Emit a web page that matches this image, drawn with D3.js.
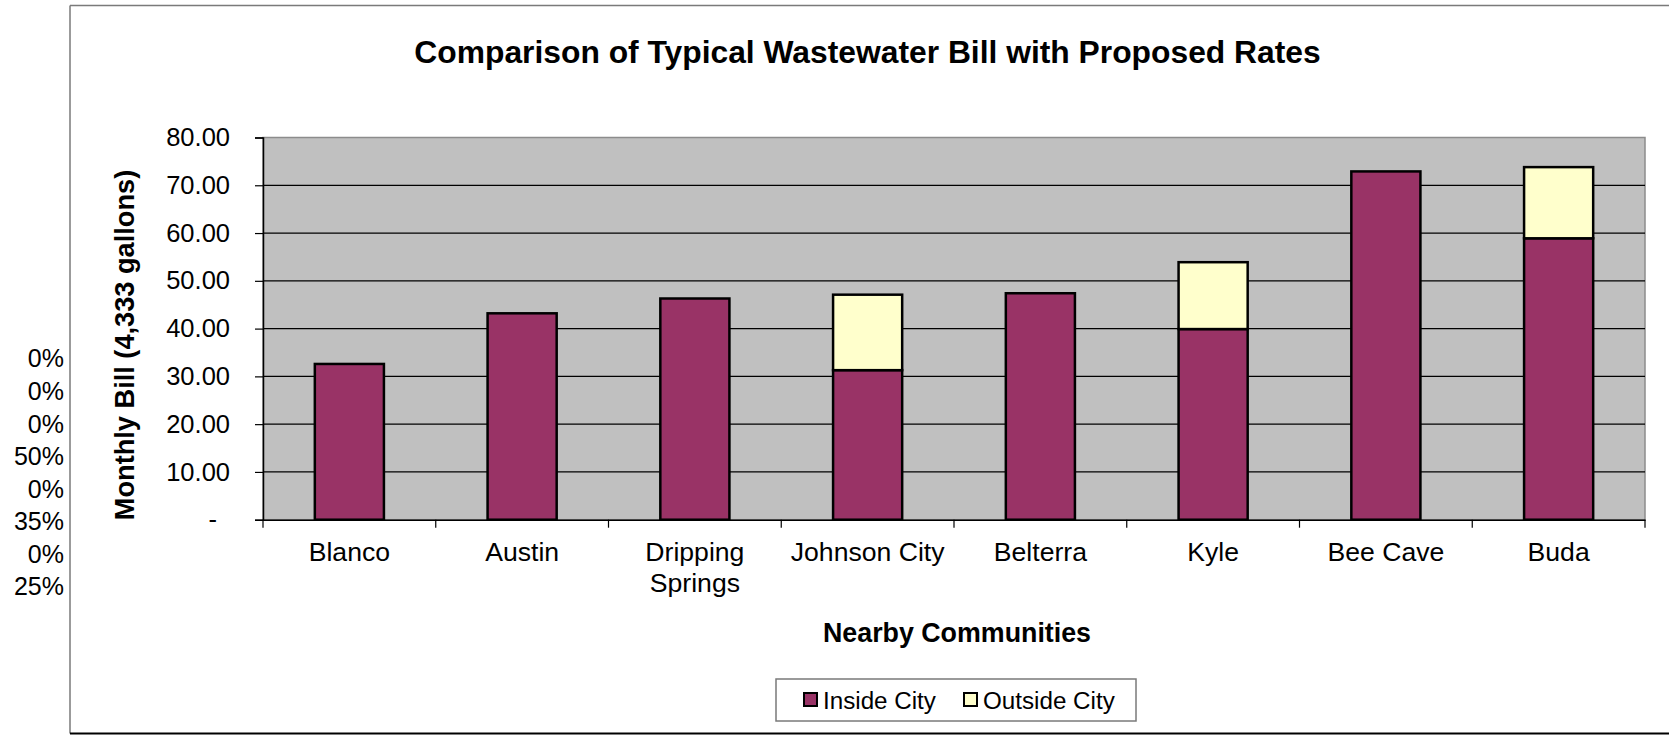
<!DOCTYPE html>
<html>
<head>
<meta charset="utf-8">
<script src="https://cdn.jsdelivr.net/npm/d3@7"></script>
<style>
  html, body { margin: 0; padding: 0; background: #fff; }
  svg { display: block; font-family: "Liberation Sans", Arial, sans-serif; }
</style>
</head>
<body>
<svg id="chart" width="1669" height="736"></svg>
<script>
// ---- data ----
const categories = ["Blanco", "Austin", "Dripping Springs", "Johnson City", "Belterra", "Kyle", "Bee Cave", "Buda"];
const insideCity = [32.6, 43.2, 46.3, 31.3, 47.4, 39.9, 72.9, 58.9];
const outsideCity = [0, 0, 0, 15.8, 0, 14.0, 0, 14.9];
const seriesNames = ["Inside City", "Outside City"];
const yTicks = [0, 10, 20, 30, 40, 50, 60, 70, 80];
const strayLabels = ["0%", "0%", "0%", "50%", "0%", "35%", "0%", "25%"];
const titleText = "Comparison of Typical Wastewater Bill with Proposed Rates";
const yTitle = "Monthly Bill (4,333 gallons)";
const xTitle = "Nearby Communities";

// ---- layout ----
const W = 1669, H = 736;
const plot = { left: 263, right: 1645, top: 137.5, bottom: 519.7 };
const colors = { "Inside City": "#993366", "Outside City": "#FFFFCC" };

const svg = d3.select("#chart");

// outer chart frame
svg.append("line").attr("x1", 70).attr("y1", 5.5).attr("x2", 70).attr("y2", 733.5)
  .attr("stroke", "#7a7a7a").attr("stroke-width", 1.5);
svg.append("line").attr("x1", 70).attr("y1", 5.5).attr("x2", W).attr("y2", 5.5)
  .attr("stroke", "#7a7a7a").attr("stroke-width", 1.5);
svg.append("line").attr("x1", 70).attr("y1", 733.5).attr("x2", W).attr("y2", 733.5)
  .attr("stroke", "#000").attr("stroke-width", 2);

// scales
const x = d3.scaleBand().domain(categories).range([plot.left, plot.right])
  .paddingInner(0.6).paddingOuter(0.3);
const y = d3.scaleLinear().domain([0, 80]).range([plot.bottom, plot.top]);

// plot background
svg.append("rect").attr("x", plot.left).attr("y", plot.top)
  .attr("width", plot.right - plot.left).attr("height", plot.bottom - plot.top)
  .attr("fill", "#C0C0C0").attr("stroke", "#8c8c8c").attr("stroke-width", 1.5);

// gridlines
svg.append("g").selectAll("line").data(yTicks.filter(d => d > 0 && d < 80)).join("line")
  .attr("x1", plot.left).attr("x2", plot.right)
  .attr("y1", d => y(d)).attr("y2", d => y(d))
  .attr("stroke", "#000").attr("stroke-width", 1.2);

// y axis
const yAxis = d3.axisLeft(y).tickValues(yTicks).tickSize(8).tickPadding(25)
  .tickFormat(d => d === 0 ? "-" : d3.format(".2f")(d));
const gy = svg.append("g").attr("transform", `translate(${plot.left},0)`).call(yAxis);
gy.select(".domain").attr("stroke", "#000").attr("stroke-width", 1.5);
gy.selectAll(".tick line").attr("stroke", "#000").attr("stroke-width", 1.2);
gy.selectAll(".tick text").attr("font-size", 25.5).attr("fill", "#000")
  .attr("font-family", '"Liberation Sans", Arial, sans-serif');
gy.selectAll(".tick text").filter(d => d === 0).attr("x", -46);

// x axis
const xAxis = d3.axisBottom(x).tickSize(0).tickPadding(22);
const gx = svg.append("g").attr("transform", `translate(0,${plot.bottom})`).call(xAxis);
gx.select(".domain").attr("stroke", "#000").attr("stroke-width", 1.5);
gx.selectAll(".tick text").attr("font-size", 26.6).attr("fill", "#000")
  .attr("font-family", '"Liberation Sans", Arial, sans-serif')
  .call(wrap, x.step() - 10);
// category boundary tick marks
const bounds = d3.range(categories.length + 1).map(i => plot.left + i * x.step());
svg.append("g").selectAll("line").data(bounds).join("line")
  .attr("x1", d => d).attr("x2", d => d)
  .attr("y1", plot.bottom).attr("y2", plot.bottom + 8)
  .attr("stroke", "#000").attr("stroke-width", 1.2);

function wrap(texts, width) {
  texts.each(function () {
    const t = d3.select(this);
    const words = t.text().split(/\s+/);
    const yy = t.attr("y"), dy = parseFloat(t.attr("dy")) || 0;
    t.text(null);
    let line = [], lineNo = 0;
    let tspan = t.append("tspan").attr("x", 0).attr("y", yy).attr("dy", dy + "em");
    for (const w of words) {
      line.push(w);
      tspan.text(line.join(" "));
      if (tspan.node().getComputedTextLength() > width && line.length > 1) {
        line.pop();
        tspan.text(line.join(" "));
        line = [w];
        lineNo++;
        tspan = t.append("tspan").attr("x", 0).attr("y", yy)
          .attr("dy", (lineNo * 1.18 + dy) + "em").text(w);
      }
    }
  });
}

// stacked bars
const rows = categories.map((c, i) => ({ cat: c, "Inside City": insideCity[i], "Outside City": outsideCity[i] }));
const stacked = d3.stack().keys(seriesNames)(rows);
svg.append("g").selectAll("g").data(stacked).join("g")
  .attr("fill", s => colors[s.key])
  .selectAll("rect").data(s => s.filter(d => d[1] - d[0] > 0)).join("rect")
  .attr("x", d => x(d.data.cat))
  .attr("width", x.bandwidth())
  .attr("y", d => y(d[1]))
  .attr("height", d => y(d[0]) - y(d[1]))
  .attr("stroke", "#000").attr("stroke-width", 2.5);

// title
svg.append("text").attr("x", 867.5).attr("y", 63).attr("text-anchor", "middle")
  .attr("font-size", 31.8).attr("font-weight", "bold").text(titleText);

// y title
svg.append("text").attr("transform", `translate(134,345) rotate(-90)`)
  .attr("text-anchor", "middle").attr("font-size", 27.2).attr("font-weight", "bold").text(yTitle);

// x title
svg.append("text").attr("x", 957).attr("y", 642).attr("text-anchor", "middle")
  .attr("font-size", 26.8).attr("font-weight", "bold").text(xTitle);

// stray percent labels on the left
const sy = d3.scalePoint().domain(d3.range(strayLabels.length)).range([358.7, 586.5]);
svg.append("g").selectAll("text").data(strayLabels).join("text")
  .attr("x", 64).attr("y", (d, i) => sy(i)).attr("dy", "0.35em")
  .attr("text-anchor", "end").attr("font-size", 25).text(d => d);

// legend
const lg = svg.append("g");
lg.append("rect").attr("x", 776).attr("y", 679).attr("width", 360).attr("height", 42)
  .attr("fill", "#fff").attr("stroke", "#7a7a7a").attr("stroke-width", 1.5);
const legendX = [803, 963];
seriesNames.forEach((s, i) => {
  lg.append("rect").attr("x", legendX[i] + 1).attr("y", 693).attr("width", 13).attr("height", 13)
    .attr("fill", colors[s]).attr("stroke", "#000").attr("stroke-width", 2);
  lg.append("text").attr("x", legendX[i] + 20).attr("y", 708.5)
    .attr("font-size", 24.2).text(s);
});
</script>
</body>
</html>
